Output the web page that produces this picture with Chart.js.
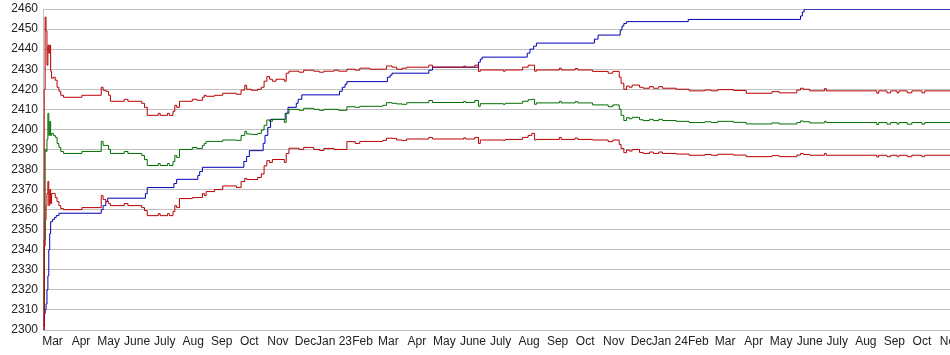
<!DOCTYPE html>
<html lang="en">
<head>
  <meta charset="UTF-8" />
  <title>Rating history</title>
  <script src="https://cdn.jsdelivr.net/npm/chart.js"></script>
  <style>
    body {
      margin: 0;
      padding: 0;
      background: #fff;
    }

    .chart-wrapper {
      width: 950px;
      height: 355px;
      position: relative;
    }
  </style>
</head>
<body>

  <div class="chart-wrapper">
    <canvas id="chartRating" width="950" height="355"></canvas>
  </div>

  <script>
    // dates shared by the two red lines and the green line
    const bandDates = [
      '2022-02-19','2022-02-20','2022-02-21','2022-02-22','2022-02-23','2022-02-24','2022-02-25','2022-02-26','2022-02-27','2022-02-28',
      '2022-03-02','2022-03-04','2022-03-06','2022-03-08','2022-03-10','2022-03-13','2022-04-02','2022-04-23','2022-04-25','2022-04-28',
      '2022-05-01','2022-05-03','2022-05-18','2022-05-22','2022-06-06','2022-06-09','2022-06-12','2022-06-24','2022-06-26','2022-07-04',
      '2022-07-06','2022-07-10','2022-07-12','2022-07-14','2022-07-17','2022-07-31','2022-08-05','2022-08-11','2022-08-13','2022-08-15',
      '2022-08-24','2022-09-02','2022-09-17','2022-09-22','2022-09-26','2022-09-28','2022-10-03','2022-10-10','2022-10-14','2022-10-17',
      '2022-10-20','2022-10-23','2022-10-26','2022-10-30','2022-11-08','2022-11-10','2022-11-13','2022-11-24','2022-11-29','2022-12-10',
      '2022-12-16','2022-12-21','2023-01-01','2023-01-06','2023-01-15','2023-01-24','2023-01-29','2023-02-09','2023-02-23','2023-02-27',
      '2023-03-05','2023-03-10','2023-03-16','2023-03-21','2023-04-14','2023-04-18','2023-05-22','2023-05-24','2023-06-03','2023-06-07',
      '2023-06-09','2023-07-04','2023-07-06','2023-07-25','2023-07-31','2023-08-04','2023-08-07','2023-08-09','2023-09-03','2023-09-05',
      '2023-09-20','2023-09-23','2023-10-09','2023-10-26','2023-10-31','2023-11-07','2023-11-09','2023-11-12','2023-11-15','2023-11-18',
      '2023-11-21','2023-11-29','2023-12-03','2023-12-10','2023-12-14','2023-12-20','2023-12-24','2024-01-08','2024-01-22','2024-02-08',
      '2024-02-15','2024-02-22','2024-03-10','2024-03-24','2024-04-21','2024-04-29','2024-05-18','2024-05-22','2024-05-25','2024-06-01',
      '2024-06-17','2024-06-19','2024-08-13','2024-08-15','2024-08-24','2024-08-28','2024-09-04','2024-09-06','2024-09-15','2024-09-20',
      '2024-10-01','2024-10-04','2024-11-01'
    ];
    const upperVals = [
      2300, 2420, 2456, 2449, 2432, 2442, 2438, 2442, 2429, 2425.5,
      2426, 2424.5, 2421, 2419, 2417, 2416, 2417, 2421, 2419.5, 2419,
      2417, 2414, 2415, 2414, 2413, 2411, 2407, 2408, 2407, 2408,
      2407, 2409, 2412, 2411, 2414, 2415, 2414.5, 2416, 2417, 2416.5,
      2417, 2418, 2417.5, 2419.6, 2422, 2420, 2419.5, 2420, 2421, 2424,
      2426.3, 2425, 2424, 2425, 2424, 2428, 2429, 2428.5, 2429.5, 2429,
      2428.5, 2429, 2429.5, 2429, 2430, 2429.5, 2430.5, 2430, 2430, 2431.6,
      2431, 2430, 2430.5, 2431, 2432, 2431, 2431.5, 2431, 2432, 2428.9,
      2429.6, 2429, 2429.6, 2431, 2432, 2432, 2429, 2429.6, 2430.5, 2429.6,
      2430.3, 2429.6, 2428.9, 2428, 2428.9, 2426, 2423, 2420, 2421.6, 2421,
      2422.1, 2421, 2420.5, 2421.3, 2420.5, 2421.3, 2420.5, 2420, 2419.2, 2419.6,
      2419.2, 2419.8, 2419.4, 2418, 2418.8, 2418.2, 2419.6, 2420.5, 2420, 2419.2,
      2420.3, 2419.2, 2418, 2419.2, 2418.2, 2419.2, 2418.2, 2419.2, 2418.2, 2419.2,
      2418.2, 2419.2, 2419.2
    ];
    const midVals = [
      2310, 2345, 2390, 2389, 2395, 2408, 2397, 2404, 2397, 2398,
      2397, 2396, 2393, 2391, 2389, 2388, 2389, 2394, 2392, 2392,
      2390, 2388, 2389, 2388, 2387, 2385, 2382, 2383, 2382, 2383,
      2382, 2384, 2387, 2386, 2390, 2391, 2390.5, 2392, 2393, 2394,
      2394, 2394.7, 2394.5, 2397, 2399, 2397.7, 2397.5, 2398, 2399.7, 2402,
      2404.7, 2404, 2405, 2405, 2403.5, 2408, 2410, 2409.5, 2410.5, 2410,
      2409.5, 2410, 2410, 2409.5, 2411.3, 2411, 2411.5, 2411.5, 2412, 2413.3,
      2413, 2412.7, 2412.5, 2413.3, 2414.4, 2413.4, 2414, 2413.4, 2414.4, 2411.5,
      2412.8, 2412.5, 2413, 2414, 2414.8, 2415, 2412.5, 2413.2, 2414, 2413.2,
      2413.8, 2413.2, 2412.2, 2411.3, 2412.2, 2410, 2407, 2404.4, 2405.8, 2405.3,
      2406, 2404.8, 2404.4, 2405, 2404.4, 2405, 2404.4, 2404, 2403.4, 2403.8,
      2403.4, 2404, 2403.5, 2402.7, 2403.2, 2402.7, 2403.4, 2404.2, 2403.8, 2403.2,
      2404, 2403.4, 2402.4, 2403.4, 2402.6, 2403.4, 2402.6, 2403.4, 2402.6, 2403.4,
      2402.6, 2403.4, 2403.4
    ];
    const lowerVals = [
      2300, 2342, 2355, 2362, 2368, 2374, 2362, 2370, 2363, 2368,
      2368, 2366, 2364, 2362, 2360.5, 2360, 2361, 2367, 2365, 2364,
      2363, 2362, 2363, 2362, 2361, 2359.5, 2357, 2358, 2357, 2358,
      2357, 2359, 2362, 2361, 2365.5, 2366, 2366, 2368, 2367, 2369,
      2370, 2371.8, 2371, 2374, 2375.6, 2375, 2375, 2376, 2377.8, 2381.8,
      2384.4, 2383.5, 2385, 2385, 2383.5, 2388, 2390.6, 2390, 2391, 2390,
      2389.5, 2390.5, 2390, 2390, 2393.9, 2393, 2394, 2394, 2394.5, 2395.6,
      2395.5, 2394.7, 2394.5, 2395.2, 2396, 2395.2, 2395.8, 2395.2, 2396, 2393,
      2394.7, 2394.5, 2395, 2396, 2397, 2398, 2394.7, 2395, 2396, 2395,
      2395.7, 2395, 2394.7, 2393.9, 2394.7, 2392.5, 2390.5, 2388.4, 2389.7, 2389.2,
      2390, 2388.5, 2388, 2388.7, 2388, 2388.7, 2388, 2387.7, 2387.1, 2387.5,
      2387.1, 2387.6, 2387.2, 2386.4, 2386.9, 2386.4, 2387.2, 2388, 2387.5, 2387.1,
      2388, 2387.1, 2386.2, 2387.1, 2386.4, 2387.1, 2386.4, 2387.1, 2386.4, 2387.1,
      2386.4, 2387.1, 2387.1
    ];

    // blue line (steps up only)
    const blueDates = [
      '2022-02-19','2022-02-20','2022-02-21','2022-02-22','2022-02-23','2022-02-24','2022-02-25','2022-02-26','2022-02-27','2022-03-01',
      '2022-03-03','2022-03-05','2022-03-08','2022-04-23','2022-04-25','2022-04-28','2022-04-30','2022-06-10','2022-06-12','2022-07-11',
      '2022-07-14','2022-08-06','2022-08-08','2022-08-11','2022-09-25','2022-09-28','2022-10-01','2022-10-16','2022-10-18','2022-10-21',
      '2022-10-24','2022-11-09','2022-11-12','2022-11-21','2022-11-23','2022-11-27','2023-01-07','2023-01-10','2023-01-13','2023-01-15',
      '2023-02-28','2023-03-03','2023-03-05','2023-04-14','2023-04-18','2023-06-07','2023-06-09','2023-06-11','2023-07-30','2023-08-02',
      '2023-08-06','2023-08-09','2023-10-11','2023-10-15','2023-11-08','2023-11-10','2023-11-12','2023-11-15','2024-01-21','2024-05-22',
      '2024-05-24','2024-05-26','2024-11-01'
    ];
    const blueVals = [
      2302, 2308, 2310, 2313, 2320, 2327, 2340, 2348, 2354, 2355,
      2356, 2357, 2358.2, 2360, 2362, 2364, 2365.7, 2368, 2371, 2373,
      2375.1, 2377, 2379, 2381.1, 2384, 2386.5, 2389.4, 2393, 2397, 2401,
      2405, 2408, 2411, 2413, 2415, 2417.2, 2419, 2421, 2422.5, 2423.8,
      2426, 2427, 2428, 2429.5, 2431, 2433.5, 2435, 2436, 2438, 2440,
      2441.5, 2443, 2445, 2447, 2449.5, 2451.5, 2452.8, 2453.7, 2454.8, 2456.5,
      2458.5, 2459.9, 2459.9
    ];

    const monthTicks = [
      '2022-03-01','2022-04-01','2022-05-01','2022-06-01','2022-07-01','2022-08-01','2022-09-01','2022-10-01','2022-11-01','2022-12-01',
      '2023-01-01','2023-02-01','2023-03-01','2023-04-01','2023-05-01','2023-06-01','2023-07-01','2023-08-01','2023-09-01','2023-10-01',
      '2023-11-01','2023-12-01','2024-01-01','2024-02-01','2024-03-01','2024-04-01','2024-05-01','2024-06-01','2024-07-01','2024-08-01',
      '2024-09-01','2024-10-01','2024-11-01'
    ];
    const monthLabels = [
      'Mar','Apr','May','June','July','Aug','Sep','Oct','Nov','Dec',
      'Jan 23','Feb','Mar','Apr','May','June','July','Aug','Sep','Oct',
      'Nov','Dec','Jan 24','Feb','Mar','Apr','May','June','July','Aug',
      'Sep','Oct','Nov'
    ];
    const yTicks = [2300, 2310, 2320, 2330, 2340, 2350, 2360, 2370, 2380, 2390, 2400, 2410, 2420, 2430, 2440, 2450, 2460];

    // days since epoch, so the x axis can be a plain linear scale
    const day = s => Date.UTC(+s.slice(0, 4), +s.slice(5, 7) - 1, +s.slice(8, 10)) / 864e5;
    const toPoints = (dates, vals) => dates.map((d, i) => ({ x: day(d), y: vals[i] }));

    const line = (data, color) => ({
      data: data,
      borderColor: color,
      borderWidth: 1,
      pointRadius: 0,
      stepped: true,
      fill: false
    });

    const font = { family: '"Liberation Sans", Arial, sans-serif', size: 12 };

    const ctx = document.getElementById('chartRating').getContext('2d');
    const chart = new Chart(ctx, {
      type: 'line',
      data: {
        datasets: [
          line(toPoints(bandDates, upperVals), '#b80000'),
          line(toPoints(bandDates, midVals), '#006e00'),
          line(toPoints(bandDates, lowerVals), '#b80000'),
          line(toPoints(blueDates, blueVals), '#0000b4')
        ]
      },
      options: {
        responsive: false,
        animation: false,
        layout: { padding: { top: 9, right: 0, left: 0, bottom: 0 } },
        plugins: {
          legend: { display: false },
          tooltip: { enabled: false }
        },
        scales: {
          x: {
            type: 'linear',
            min: day('2022-02-19') - 0.3,
            max: day('2024-11-01') - 0.5,
            afterBuildTicks: s => { s.ticks = monthTicks.map(d => ({ value: day(d) })); },
            afterFit: s => { s.height = 25; s.paddingLeft = 0; s.paddingRight = 0; },
            grid: { display: false, drawTicks: false },
            border: { display: false },
            ticks: {
              autoSkip: false,
              maxRotation: 0,
              padding: 4,
              color: '#222',
              font: font,
              callback: (v, i) => monthLabels[i]
            }
          },
          y: {
            min: 2300,
            max: 2460,
            afterBuildTicks: s => { s.ticks = yTicks.map(v => ({ value: v })); },
            afterFit: s => { s.width = 43; s.paddingTop = 0; s.paddingBottom = 0; },
            grid: { color: '#c0c0c0', drawTicks: false },
            border: { color: '#c0c0c0' },
            ticks: {
              padding: 5,
              color: '#222',
              font: font,
              callback: v => String(v)
            }
          }
        }
      }
    });
  </script>
</body>
</html>
